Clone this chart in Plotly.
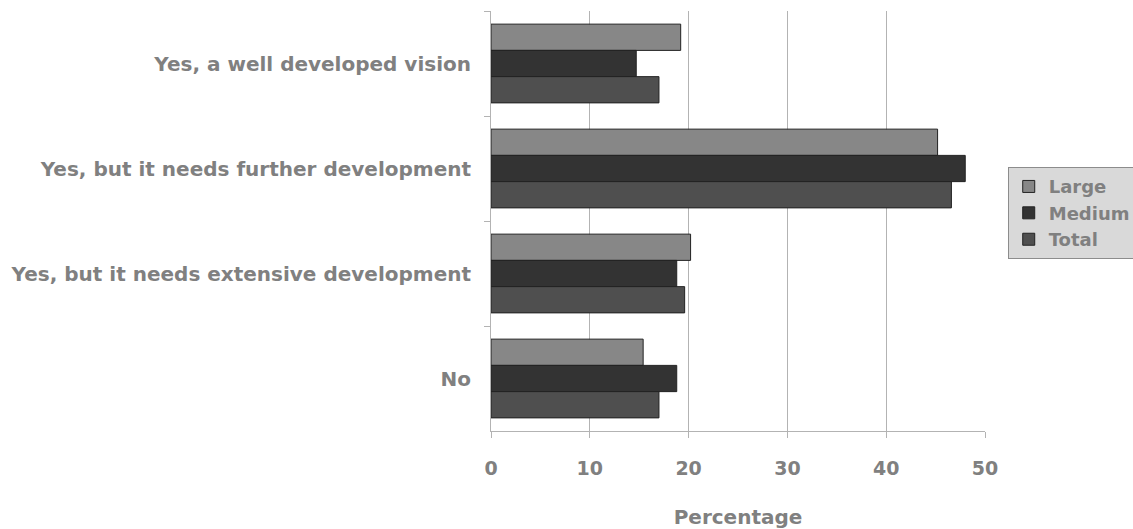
import plotly.graph_objects as go

categories = ["Yes, a well developed vision",
              "Yes, but it needs further development",
              "Yes, but it needs extensive development",
              "No"]
large = [19.2, 45.2, 20.2, 15.4]
medium = [14.7, 48.0, 18.8, 18.8]
total = [17.0, 46.6, 19.6, 17.0]

series = [("Large", large, "#878787"), ("Medium", medium, "#333333"), ("Total", total, "#4f4f4f")]

fig = go.Figure()
for name, vals, col in series:
    fig.add_trace(go.Bar(y=categories, x=vals, name=name, orientation="h",
                         marker=dict(color=col, line=dict(color="#222222", width=1))))

font_gray = "#808080"
fam = "DejaVu Sans"
fig.update_layout(
    width=1133, height=529,
    margin=dict(l=491, r=148, t=11, b=98, autoexpand=False),
    barmode="group", bargap=0.25, bargroupgap=0,
    plot_bgcolor="white", paper_bgcolor="white",
    font=dict(family=fam, size=20, color=font_gray),
    showlegend=True,
    legend=dict(x=1.046, y=0.628, xanchor="left", yanchor="top",
                bgcolor="#d9d9d9", bordercolor="#8c8c8c", borderwidth=1,
                font=dict(family=fam, size=18, color=font_gray, weight="bold"),
                tracegroupgap=0, itemwidth=30),
    xaxis=dict(range=[0, 50], tickvals=[0, 10, 20, 30, 40, 50], showgrid=True,
               gridcolor="#b3b3b3", gridwidth=1, showline=True, linecolor="#b3b3b3",
               ticks="outside", ticklen=6, tickcolor="#b3b3b3", automargin=False,
               tickfont=dict(family=fam, size=19, color=font_gray, weight="bold"),
               ticklabelstandoff=14,
               title=dict(text="Percentage", font=dict(family=fam, size=20, color=font_gray, weight="bold"), standoff=33),
               zeroline=False),
    yaxis=dict(autorange="reversed", showline=True, linecolor="#b3b3b3", automargin=False,
               ticks="outside", ticklen=6, tickcolor="#b3b3b3", tickson="boundaries",
               tickfont=dict(family=fam, size=20, color=font_gray, weight="bold"),
               ticklabelstandoff=15, showgrid=False),
)
fig.write_html("out.html")
